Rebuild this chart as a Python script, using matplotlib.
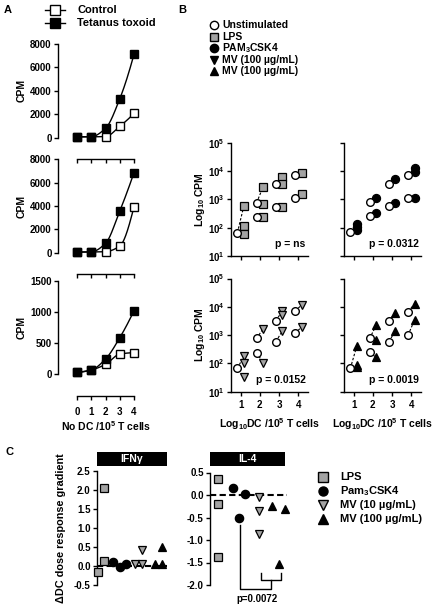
import numpy as np
import matplotlib
matplotlib.use("Agg")
import matplotlib.pyplot as plt
from matplotlib.lines import Line2D
from matplotlib.patches import Rectangle
from matplotlib.ticker import NullLocator, FixedLocator

plt.rcParams['font.family'] = ['Liberation Sans', 'DejaVu Sans']
plt.rcParams['font.weight'] = 'bold'
plt.rcParams['mathtext.fontset'] = 'custom'
plt.rcParams['mathtext.rm'] = 'Liberation Sans:bold'
plt.rcParams['mathtext.bf'] = 'Liberation Sans:bold'
plt.rcParams['mathtext.it'] = 'Liberation Sans:bold:italic'
plt.rcParams['mathtext.default'] = 'rm'
plt.rcParams['axes.unicode_minus'] = False
plt.rcParams['axes.linewidth'] = 1.0

# ---------------- data: panel A ----------------
a_doses = [0, 1, 2, 3, 4]
a_tick_labels = ["0", "1", "2", "3", "4"]
a1_control = [50, 60, 80, 950, 2050]
a1_tetanus = [60, 70, 780, 3300, 7100]
a2_control = [50, 60, 90, 570, 3940]
a2_tetanus = [60, 70, 800, 3570, 6860]
a3_control = [30, 65, 155, 320, 342]
a3_tetanus = [27, 64, 240, 583, 1018]
a1_yticks = [0, 2000, 4000, 6000, 8000]
a2_yticks = [0, 2000, 4000, 6000, 8000]
a3_yticks = [0, 500, 1000, 1500]

# ---------------- data: panel B ----------------
b_doses = [1, 2, 3, 4]
b_lps_unstim = [[66], [760, 245], [3400, 540], [7000, 1100]]
b_lps_treated = [[590, 115, 59], [2800, 245, 710], [6300, 540, 3400], [8500, 1500]]
b_pam_unstim = [[72], [830, 260], [3500, 600], [7200, 1100]]
b_pam_treated = [[140, 105, 83], [1150, 340], [5200, 760], [12600, 1150, 9000]]
b_mv10_unstim = [[67], [760, 240], [3200, 590], [7200, 1150]]
b_mv10_treated = [[180, 100, 34], [1700, 105], [7200, 1400, 5100], [11500, 1950]]
b_mv100_unstim = [[67], [760, 245], [3200, 590], [6600, 1000]]
b_mv100_treated = [[420, 87, 76], [2200, 163, 660], [6100, 1400], [13000, 3500]]
b_pvalues = ["p = ns", "p = 0.0312", "p = 0.0152", "p = 0.0019"]
b_legend_labels = ["Unstimulated", "LPS", "PAM$_3$CSK4",
                   "MV (100 \u00b5g/mL)", "MV (100 \u00b5g/mL)"]

# ---------------- data: panel C ----------------
c_groups = ["LPS", "Pam$_3$CSK4", "MV (10 \u00b5g/mL)", "MV (100 \u00b5g/mL)"]
c_ifng_lps = [2.05, 0.13, -0.15]
c_ifng_pam = [0.12, -0.02, 0.06]
c_ifng_mv10 = [0.42, 0.07, 0.07]
c_ifng_mv100 = [0.50, 0.05, 0.07]
c_il4_lps = [0.35, -0.20, -1.37]
c_il4_pam = [0.15, 0.02, -0.50]
c_il4_mv10 = [-0.04, -0.35, -0.87]
c_il4_mv100 = [-0.24, -0.32, -1.53]
c_pvalue = "p=0.0072"

GREY = '#a3a3a3'
W, H = 435, 610
fig = plt.figure(figsize=(W / 100, H / 100), dpi=100)


def add_ax(l, t, r, b):
    a = fig.add_axes([l / W, 1 - b / H, (r - l) / W, (b - t) / H])
    a.patch.set_visible(False)
    return a


def fx(x):
    return x / W


def fy(y):
    return 1 - y / H


def pchip(x, y, xs):
    x = np.asarray(x, float)
    y = np.asarray(y, float)
    h = np.diff(x)
    delta = np.diff(y) / h
    n = len(x)
    d = np.zeros(n)
    for k in range(1, n - 1):
        if delta[k - 1] * delta[k] > 0:
            w1 = 2 * h[k] + h[k - 1]
            w2 = h[k] + 2 * h[k - 1]
            d[k] = (w1 + w2) / (w1 / delta[k - 1] + w2 / delta[k])
    d[0] = ((2 * h[0] + h[1]) * delta[0] - h[0] * delta[1]) / (h[0] + h[1])
    if np.sign(d[0]) != np.sign(delta[0]):
        d[0] = 0
    d[-1] = ((2 * h[-1] + h[-2]) * delta[-1] - h[-1] * delta[-2]) / (h[-1] + h[-2])
    if np.sign(d[-1]) != np.sign(delta[-1]):
        d[-1] = 0
    out = np.empty_like(xs)
    for i, xv in enumerate(xs):
        k = min(np.searchsorted(x, xv, side='right') - 1, n - 2)
        k = max(k, 0)
        t = (xv - x[k]) / h[k]
        h00 = 2 * t**3 - 3 * t**2 + 1
        h10 = t**3 - 2 * t**2 + t
        h01 = -2 * t**3 + 3 * t**2
        h11 = t**3 - t**2
        out[i] = h00 * y[k] + h10 * h[k] * d[k] + h01 * y[k + 1] + h11 * h[k] * d[k + 1]
    return out


# ================= Panel A =================
fig.text(fx(4), fy(10), "A", fontsize=8, weight='bold', va='center')
a_sets = [(a1_control, a1_tetanus, a1_yticks, 43.7, 137.5),
          (a2_control, a2_tetanus, a2_yticks, 159.3, 252.7),
          (a3_control, a3_tetanus, a3_yticks, 280.7, 374.0)]
xs = np.linspace(0, 4, 200)
for i, (ctrl, tt, yt, top, bot) in enumerate(a_sets):
    ax = add_ax(58, top, 140, bot)
    ax.set_xlim(-1.333, 4.42)
    ax.set_ylim(0, yt[-1])
    ax.plot(xs, pchip(a_doses, ctrl, xs), color='k', lw=1.0, clip_on=False)
    ax.plot(xs, pchip(a_doses, tt, xs), color='k', lw=1.0, clip_on=False)
    ax.plot(a_doses, ctrl, 's', mfc='white', mec='k', ms=6, mew=1.0, clip_on=False, zorder=3)
    ax.plot(a_doses, tt, 's', mfc='black', mec='k', ms=6, mew=1.0, clip_on=False, zorder=4)
    for s in ['top', 'right']:
        ax.spines[s].set_visible(False)
    ax.spines['left'].set_bounds(0, yt[-1])
    ax.spines['bottom'].set_position(('outward', 15.5))
    ax.spines['bottom'].set_bounds(0, 4)
    ax.set_yticks(yt)
    ax.set_xticks(a_doses)
    ax.tick_params(direction='out', length=3, width=1.0, labelsize=7, pad=1.5)
    if i == 2:
        ax.set_xticklabels(a_tick_labels, fontsize=7, weight='bold')
        ax.tick_params(axis='x', pad=5)
    else:
        ax.set_xticklabels([])
    for lab in ax.get_yticklabels():
        lab.set_fontweight('bold')
    fig.text(fx(22), fy((top + bot) / 2), "CPM", rotation=90, fontsize=7.5,
             weight='bold', ha='center', va='center')
fig.text(fx(106), fy(426), "No DC /10$^5$ T cells", fontsize=7.5, weight='bold',
         ha='center', va='center')

# legend A
for yy, fc, lab in [(10, 'white', 'Control'), (23, 'black', 'Tetanus toxoid')]:
    fig.add_artist(Line2D([fx(45), fx(65)], [fy(yy), fy(yy)], color='k', lw=1.0))
    fig.add_artist(Line2D([fx(55)], [fy(yy)], marker='s', mfc=fc, mec='k', ms=6.5, mew=1.0))
    fig.text(fx(77), fy(yy), lab, fontsize=8, weight='bold', va='center')

# ================= Panel B =================
fig.text(fx(178), fy(10), "B", fontsize=8, weight='bold', va='center')
b_markers = [('s', GREY), ('o', 'black'), ('v', GREY), ('^', 'black')]
b_unstim = [b_lps_unstim, b_pam_unstim, b_mv10_unstim, b_mv100_unstim]
b_treated = [b_lps_treated, b_pam_treated, b_mv10_treated, b_mv100_treated]
b_pos = [(231, 142.8, 256), (344, 142.8, 256), (231, 278.5, 391.7), (344, 278.5, 391.7)]
off = 0.17
for p in range(4):
    l, t, b = b_pos[p]
    ax = add_ax(l, t, l + 77, b)
    ax.set_yscale('log')
    ax.set_ylim(10, 1e5)
    ax.set_xlim(0.5, 4.5)
    mk, col = b_markers[p]
    for j, xv in enumerate(b_doses):
        u = b_unstim[p][j]
        tr = b_treated[p][j]
        for k in range(min(len(u), len(tr))):
            ax.plot([xv - off, xv + off], [u[k], tr[k]], color='k', lw=0.8,
                    ls=(0, (2.2, 1.6)), zorder=1)
        ax.plot([xv - off] * len(u), u, 'o', mfc='white', mec='k', ms=5.5, mew=1.0, zorder=3)
        ax.plot([xv + off] * len(tr), tr, mk, mfc=col, mec='k', ms=5.8, mew=0.9, zorder=2)
    for s in ['top', 'right']:
        ax.spines[s].set_visible(False)
    ax.yaxis.set_major_locator(FixedLocator([10, 100, 1e3, 1e4, 1e5]))
    ax.yaxis.set_minor_locator(NullLocator())
    ax.set_xticks(b_doses)
    ax.tick_params(direction='out', length=3, width=1.0, labelsize=7, pad=1.5)
    if p % 2 == 0:
        ax.set_yticklabels(["$10^{%d}$" % e for e in range(1, 6)])
        fig.text(fx(200), fy((t + b) / 2), "Log$_{10}$ CPM", rotation=90, fontsize=7.5,
                 weight='bold', ha='center', va='center')
    else:
        ax.set_yticklabels([])
    if p >= 2:
        ax.set_xticklabels([str(v) for v in b_doses], fontsize=7, weight='bold')
        ax.tick_params(axis='x', pad=3)
        fig.text(fx(l + 38.5), fy(424), "Log$_{10}$DC /10$^5$ T cells", fontsize=7.5,
                 weight='bold', ha='center', va='center')
    else:
        ax.set_xticklabels([])
    ax.text(0.97, 0.06, b_pvalues[p], transform=ax.transAxes, ha='right', va='bottom',
            fontsize=7.5, weight='bold')

# legend B (down-triangle drawn black in the reference legend)
leg_b = [('o', 'white'), ('s', GREY), ('o', 'black'), ('v', 'black'), ('^', 'black')]
for r, ((mk, col), lab) in enumerate(zip(leg_b, b_legend_labels)):
    yy = 25 + r * 11.6
    fig.add_artist(Line2D([fx(214)], [fy(yy)], marker=mk, mfc=col, mec='k', ms=6, mew=1.0))
    fig.text(fx(222), fy(yy), lab, fontsize=7.5, weight='bold', va='center')

# ================= Panel C =================
fig.text(fx(6), fy(452), "C", fontsize=8, weight='bold', va='center')
c_markers = [('s', GREY), ('o', 'black'), ('v', GREY), ('^', 'black')]
ifng_vals = [c_ifng_lps, c_ifng_pam, c_ifng_mv10, c_ifng_mv100]
il4_vals = [c_il4_lps, c_il4_pam, c_il4_mv10, c_il4_mv100]
ifng_jit = [[0.15, 0.15, -0.15], [-0.35, 0.0, 0.28], [0.12, -0.25, 0.12], [0.15, -0.2, 0.15]]
il4_jit = [[0, 0, 0], [-0.25, 0.35, 0.05], [0, 0, 0], [-0.35, 0.3, 0.0]]

ax1 = add_ax(97, 470.7, 167, 585.3)
ax1.set_xlim(-0.2, 3.42)
ax1.set_ylim(-0.5, 2.5)
ax2 = add_ax(210, 472.5, 287, 585)
ax2.set_xlim(-0.4, 3.4)
ax2.set_ylim(-2.0, 0.5)
for ax, vals, jit, yt, (bl, br), title in [
        (ax1, ifng_vals, ifng_jit, [-0.5, 0, 0.5, 1.0, 1.5, 2.0, 2.5], (97, 167), "IFN\u03b3"),
        (ax2, il4_vals, il4_jit, [-2.0, -1.5, -1.0, -0.5, 0, 0.5], (210, 285), "IL-4")]:
    ax.axhline(0, color='k', lw=1.5, ls=(0, (3, 1.6)), zorder=1)
    for g, (mk, col) in enumerate(c_markers):
        xsj = [g + j for j in jit[g]]
        ax.plot(xsj, vals[g], mk, mfc=col, mec='k', ms=6, mew=0.9, ls='none',
                clip_on=False, zorder=3)
    for s in ['top', 'right', 'bottom']:
        ax.spines[s].set_visible(False)
    ax.set_xticks([])
    ax.set_yticks(yt)
    ax.set_yticklabels(["%.1f" % v for v in yt])
    ax.tick_params(direction='out', length=3, width=1.0, labelsize=7, pad=1.5)
    fig.patches.append(Rectangle((fx(bl), fy(465.5)), (br - bl) / W, 13.5 / H,
                                 transform=fig.transFigure, facecolor='black',
                                 edgecolor='none'))
    fig.text(fx((bl + br) / 2), fy(458.7), title, color='white', fontsize=7.5,
             weight='bold', ha='center', va='center')

# bracket on IL-4
ax2.plot([1.1, 1.1, 2.6, 2.6], [-0.67, -2.09, -2.09, -1.89], color='k', lw=1.0, clip_on=False)
ax2.plot([2.1, 2.1, 3.1, 3.1], [-1.74, -1.89, -1.89, -1.74], color='k', lw=1.0, clip_on=False)
ax2.text(1.92, -2.31, c_pvalue, ha='center', va='center', fontsize=7, weight='bold')

fig.text(fx(61), fy(528), "\u0394DC dose response gradient", rotation=90, fontsize=7.8,
         weight='bold', ha='center', va='center')

# legend C
for r, ((mk, col), lab) in enumerate(zip(c_markers, c_groups)):
    yy = 477 + r * 14
    fig.add_artist(Line2D([fx(323)], [fy(yy)], marker=mk, mfc=col, mec='k', ms=6.5, mew=1.0))
    fig.text(fx(340), fy(yy), lab, fontsize=8, weight='bold', va='center')

fig.savefig("out.png", dpi=100)
